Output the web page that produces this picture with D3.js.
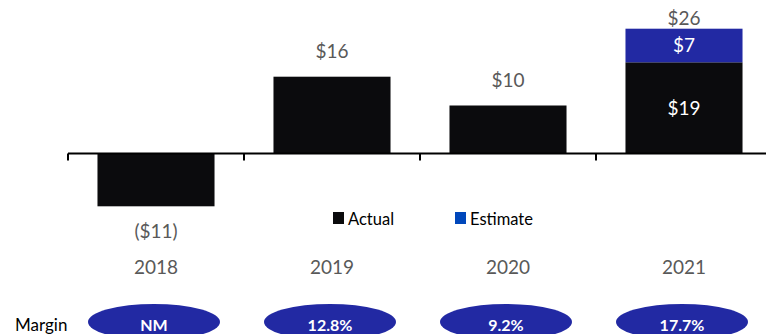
<!DOCTYPE html>
<html>
<head>
<meta charset="utf-8">
<script src="https://cdn.jsdelivr.net/npm/d3@7/dist/d3.min.js"></script>
<style>
  html, body { margin: 0; padding: 0; background: #fff; }
  svg { display: block; font-family: Lato, "Liberation Sans", sans-serif; }
</style>
</head>
<body>
<svg id="chart" width="766" height="334"></svg>
<script>
// Yearly results ($), split into actual and estimated parts
const years = ["2018", "2019", "2020", "2021"];
const actual = [-11, 16, 10, 19];
const estimate = [0, 0, 0, 7];
const valueLabels = ["($11)", "$16", "$10", "$19"];
const estimateLabels = ["", "", "", "$7"];
const totalLabels = ["", "", "", "$26"];
const margins = ["NM", "12.8%", "9.2%", "17.7%"];
const legendItems = ["Actual", "Estimate"];

const colActual = "#0b0b0d";
const colEstimate = "#2229a3";
const colLegendEstimate = "#0047bb";
const colText = "#595959";

const svg = d3.select("#chart");

// One slot per year; bars take the middle two thirds of each slot
const xCat = d3.scaleBand().domain(years).range([68, 772]).padding(0);
const x = d3.scaleBand().domain(years).range([68, 772])
  .paddingInner(0.335).paddingOuter(0.1675);
const y = d3.scaleLinear().domain([-20, 30]).range([153.5 + 20 * 4.8, 153.5 - 30 * 4.8]);

const rows = years.map((yr, i) => ({
  year: yr, actual: actual[i], estimate: estimate[i],
  total: actual[i] + estimate[i],
  label: valueLabels[i], estLabel: estimateLabels[i], totLabel: totalLabels[i],
  margin: margins[i]
}));

// Actual bars (negative values hang below the axis)
svg.append("g").selectAll("rect").data(rows).join("rect")
  .attr("x", d => x(d.year))
  .attr("width", x.bandwidth())
  .attr("y", d => y(Math.max(0, d.actual)))
  .attr("height", d => Math.abs(y(d.actual) - y(0)))
  .attr("fill", colActual);

// Estimated portion stacked on top
svg.append("g").selectAll("rect").data(rows.filter(d => d.estimate > 0)).join("rect")
  .attr("x", d => x(d.year))
  .attr("width", x.bandwidth())
  .attr("y", d => y(d.actual + d.estimate))
  .attr("height", d => y(d.actual) - y(d.actual + d.estimate))
  .attr("fill", colEstimate);

// Axis line with boundary ticks between years
const axis = svg.append("g");
axis.append("line")
  .attr("x1", xCat.range()[0]).attr("x2", 766)
  .attr("y1", y(0)).attr("y2", y(0))
  .attr("stroke", "#000").attr("stroke-width", 2.2);
axis.selectAll("line.tick").data(years.concat(["end"])).join("line")
  .attr("class", "tick")
  .attr("x1", d => d === "end" ? xCat.range()[1] : xCat(d))
  .attr("x2", d => d === "end" ? xCat.range()[1] : xCat(d))
  .attr("y1", y(0)).attr("y2", y(0) + 7)
  .attr("stroke", "#000").attr("stroke-width", 2);

const cx = d => x(d.year) + x.bandwidth() / 2;

// Value labels
const labels = svg.append("g").attr("font-size", 19).attr("text-anchor", "middle");
// single-segment bars: label above positive bars, below negative ones
labels.selectAll("text.val").data(rows.filter(d => d.estimate === 0)).join("text")
  .attr("class", "val")
  .attr("x", cx)
  .attr("y", d => d.actual >= 0 ? y(d.actual) - 19 : y(d.actual) + 32)
  .attr("fill", colText)
  .text(d => d.label);
// stacked bar: segment values inside, total above
const stacked = rows.filter(d => d.estimate > 0);
labels.selectAll("text.inA").data(stacked).join("text")
  .attr("class", "inA")
  .attr("x", cx)
  .attr("y", d => (y(0) + y(d.actual)) / 2 + 7)
  .attr("fill", "#fff")
  .text(d => d.label);
labels.selectAll("text.inE").data(stacked).join("text")
  .attr("class", "inE")
  .attr("x", cx)
  .attr("y", d => (y(d.actual) + y(d.total)) / 2 + 6.5)
  .attr("fill", "#fff")
  .text(d => d.estLabel);
labels.selectAll("text.tot").data(stacked).join("text")
  .attr("class", "tot")
  .attr("x", cx)
  .attr("y", d => y(d.total) - 4)
  .attr("fill", colText)
  .text(d => d.totLabel);

// Year labels
svg.append("g").selectAll("text").data(rows).join("text")
  .attr("x", cx).attr("y", 274)
  .attr("text-anchor", "middle").attr("font-size", 19).attr("fill", colText)
  .text(d => d.year);

// Legend
const legendX = [333, 455];
const legendCol = [colActual, colLegendEstimate];
const lg = svg.append("g");
legendItems.forEach((name, i) => {
  lg.append("rect").attr("x", legendX[i]).attr("y", 212).attr("width", 11).attr("height", 12)
    .attr("fill", legendCol[i]);
  lg.append("text").attr("x", legendX[i] + 15).attr("y", 225)
    .attr("font-size", 16.5).attr("fill", "#000").text(name);
});

// Margin row
svg.append("text").attr("x", 15).attr("y", 331).attr("font-size", 17).attr("fill", "#000").text("Margin");
const mg = svg.append("g");
mg.selectAll("ellipse").data(rows).join("ellipse")
  .attr("cx", d => cx(d) - 2).attr("cy", 322).attr("rx", 66).attr("ry", 18)
  .attr("fill", colEstimate);
mg.selectAll("text").data(rows).join("text")
  .attr("x", d => cx(d) - 2).attr("y", 330.5)
  .attr("text-anchor", "middle").attr("font-size", 16).attr("font-weight", 700)
  .attr("fill", "#fff").text(d => d.margin);
</script>
</body>
</html>
